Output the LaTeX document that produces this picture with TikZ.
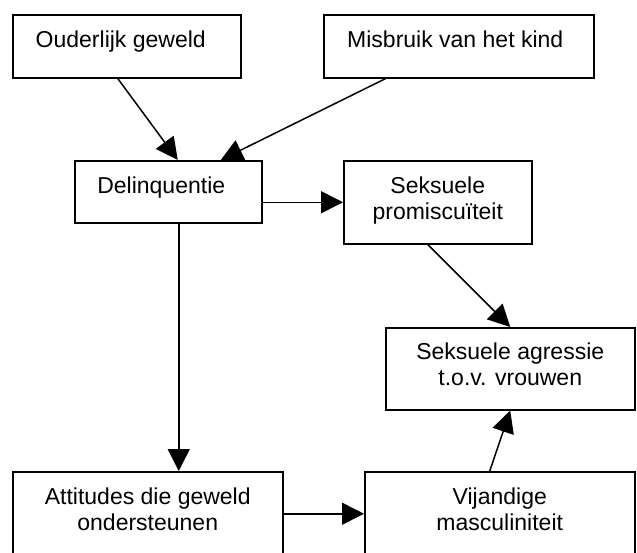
\documentclass[tikz,border=0pt]{standalone}
\usepackage{fontspec}
\setmainfont{Liberation Sans}
\usetikzlibrary{arrows.meta,calc}
\begin{document}
\begin{tikzpicture}[x=1pt,y=-1pt,
  box/.style={draw, line width=1.5pt, inner sep=0pt, anchor=north west,
    font=\fontsize{23}{26}\selectfont, text height=33pt},
  arr/.style={line width=1.5pt, -{Triangle[length=22pt,width=22pt]}}
]
\clip (0,0) rectangle (637,552);
\fill[white] (0,0) rectangle (637,552);
\node[box, minimum width=228pt, text depth=30pt] (b1) at (12,14) {Ouderlijk geweld\hspace{12pt}\mbox{}};
\node[box, minimum width=270pt, text depth=30pt] (b2) at (323,14) {Misbruik van het kind\hspace{7pt}\mbox{}};
\node[box, minimum width=187pt, text depth=29pt] (b3) at (74,160) {Delinquentie\hspace{14pt}\mbox{}};
\node[box, minimum width=188pt, text depth=50pt] (b4) at (343,160) {\begin{tabular}[t]{@{}c@{}}Seksuele\\promiscuïteit\end{tabular}};
\node[box, minimum width=249pt, text height=32pt, text depth=50pt] (b5) at (385,327) {\begin{tabular}[t]{@{}c@{}}Seksuele agressie\\t.o.v. vrouwen\end{tabular}};
\node[box, minimum width=270pt, text depth=51pt] (b6) at (12,471) {\begin{tabular}[t]{@{}c@{}}Attitudes die geweld\\ondersteunen\end{tabular}};
\node[box, minimum width=270pt, text depth=51pt] (b7) at (364,471) {\begin{tabular}[t]{@{}c@{}}Vijandige\\masculiniteit\end{tabular}};
\coordinate (d) at ($(b3.south)+(10.5,0)$);
\draw[arr] ($(b1.south)+(-9,0)$) -- ($(b3.north)+(9.5,0)$);
\draw[arr] ($(b2.south)+(-73,0)$) -- ($(b3.north)+(52.5,0)$);
\draw[arr] (d) -- (d |- b6.north);
\draw[arr] (b3.east |- b4.west) -- (b4.west);
\draw[arr] ($(b4.south)+(-10,0)$) -- (b5.north);
\draw[arr] (b6.east) -- (b7.west);
\draw[arr] ($(b7.north)+(-10,0)$) -- (b5.south);
\end{tikzpicture}
\end{document}
